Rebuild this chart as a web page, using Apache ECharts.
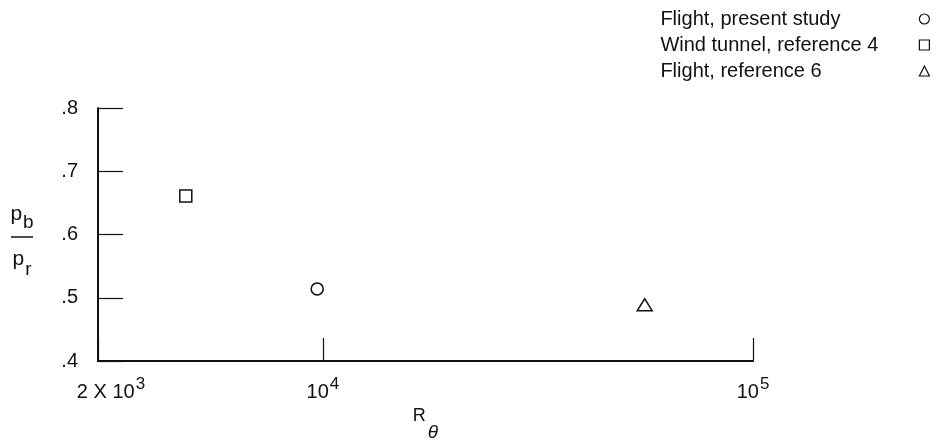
<!DOCTYPE html>
<html>
<head>
<meta charset="utf-8">
<script src="https://cdn.jsdelivr.net/npm/echarts@6/dist/echarts.min.js"></script>
<style>
html,body{margin:0;padding:0;background:#fff;}
#c{width:940px;height:447px;}
</style>
</head>
<body>
<div id="c"></div>
<script>
// ---- data ----
var seriesNames = ['Flight, present study', 'Wind tunnel, reference 4', 'Flight, reference 6'];
var seriesSymbols = ['circle', 'rect', 'triangle'];
var rTheta = [9700, 4800, 56000];       // R_theta
var pRatio = [0.514, 0.661, 0.489];     // p_b / p_r
var xMin = 3000, xMax = 100000;
var xTickLabels = {3000: ['2 X 10', '3'], 10000: ['10', '4'], 100000: ['10', '5']};
var yTickLabels = {0.4: '.4', 0.5: '.5', 0.6: '.6', 0.7: '.7', 0.8: '.8'};

var FONT = '"Liberation Sans", Arial, sans-serif';
var INK = '#111';

var chart = echarts.init(document.getElementById('c'), null, {renderer: 'canvas'});

var symbolSizes = [12, 12, [15, 12]];
var series = seriesNames.map(function (name, i) {
  return {
    name: name,
    type: 'scatter',
    symbol: seriesSymbols[i],
    symbolSize: symbolSizes[i],
    itemStyle: {color: '#fff', borderColor: INK, borderWidth: 1.5, opacity: 1},
    data: [[rTheta[i], pRatio[i]]]
  };
});

var option = {
  animation: false,
  backgroundColor: '#fff',
  grid: {left: 98, right: 187, top: 108, bottom: 82, containLabel: false},
  legend: {
    data: seriesNames.map(function (n, i) { return {name: n, icon: seriesSymbols[i]}; }),
    orient: 'vertical',
    align: 'right',
    right: 5,
    top: 4,
    itemGap: 6,
    itemWidth: 10,
    itemHeight: 10,
    selectedMode: false,
    formatter: function (name) { return '{t|' + name + '}'; },
    textStyle: {
      fontSize: 20, fontFamily: FONT, color: INK,
      rich: {t: {width: 254, align: 'left', fontSize: 20, fontFamily: FONT, color: INK}}
    },
    itemStyle: {color: '#fff', borderColor: INK, borderWidth: 1.2}
  },
  xAxis: {
    type: 'log',
    logBase: 10,
    min: xMin,
    max: xMax,
    name: '{r|R}{t|θ}',
    nameLocation: 'middle',
    nameGap: 46,
    nameTextStyle: {
      rich: {
        r: {fontSize: 18, fontFamily: FONT, color: INK, padding: [0, 0, 16, 0]},
        t: {fontSize: 19, fontFamily: FONT, fontStyle: 'italic', color: INK, padding: [16, 0, 0, 2]}
      }
    },
    axisLine: {show: true, onZero: false, lineStyle: {color: INK, width: 2}},
    axisTick: {show: true, inside: true, length: 23, lineStyle: {color: INK, width: 1.2}},
    axisLabel: {
      show: true,
      showMinLabel: true,
      showMaxLabel: true,
      margin: 15,
      formatter: function (v) {
        var key = Math.round(v / 1000) * 1000;
        var l = xTickLabels[key];
        if (!l) return '';
        return '{' + (key === xMin ? 'm' : 'n') + '|' + l[0] + '}{s|' + l[1] + '}';
      },
      rich: {
        m: {fontSize: 20, fontFamily: FONT, color: INK, padding: [6, 0, 0, 26]},
        n: {fontSize: 20, fontFamily: FONT, color: INK, padding: [6, 0, 0, 0]},
        s: {fontSize: 17, fontFamily: FONT, color: INK, padding: [0, 0, 9, 1]}
      }
    },
    splitLine: {show: false},
    minorTick: {show: false}
  },
  yAxis: {
    type: 'value',
    min: 0.4,
    max: 0.8,
    interval: 0.1,
    name: '{p|p}{b|b}\n{bar|}\n{q|p}{r|r}',
    nameLocation: 'middle',
    nameRotate: 0,
    nameGap: 76,
    nameTextStyle: {
      align: 'center',
      rich: {
        p: {fontSize: 21, lineHeight: 41, fontFamily: FONT, color: INK, padding: [0, 0, 0, 0]},
        b: {fontSize: 19, lineHeight: 41, fontFamily: FONT, color: INK, padding: [16, 0, 0, 1]},
        bar: {width: 22, height: 1.5, lineHeight: 4, backgroundColor: INK},
        q: {fontSize: 21, lineHeight: 36, fontFamily: FONT, color: INK, padding: [5.4, 0, 0, 0]},
        r: {fontSize: 19, lineHeight: 36, fontFamily: FONT, color: INK, padding: [25.4, 0, 0, 1]}
      }
    },
    axisLine: {show: true, onZero: false, lineStyle: {color: INK, width: 2}},
    axisTick: {show: true, inside: true, length: 25, lineStyle: {color: INK, width: 1.2}},
    axisLabel: {
      show: true,
      margin: 20,
      fontSize: 20,
      fontFamily: FONT,
      color: INK,
      formatter: function (v) { return yTickLabels[Math.round(v * 10) / 10] || ''; }
    },
    splitLine: {show: false}
  },
  series: series
};
chart.setOption(option);
</script>
</body>
</html>
